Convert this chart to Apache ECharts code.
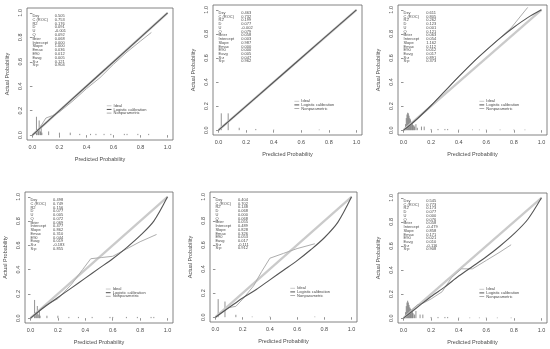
<!DOCTYPE html>
<html><head><meta charset="utf-8">
<script src="https://cdn.jsdelivr.net/npm/echarts@6/dist/echarts.min.js"></script>
<style>html,body{margin:0;padding:0;background:#fff}#c{width:550px;height:349px}</style>
</head><body><div id="c"></div>
<script>
// ---------- data ----------
const tickValues = [0, 0.2, 0.4, 0.6, 0.8, 1.0];
const xTitle = "Predicted Probability";
const yTitle = "Actual Probability";
const legendLabels = ["Ideal", "Logistic calibration", "Nonparametric"];
const statLabels = ["Dxy", "C (ROC)", "R2", "D", "U", "Q", "Brier", "Intercept", "Slope", "Emax", "E90", "Eavg", "S:z", "S:p"];

const stats1 = ["0.505", "0.753", "0.176", "0.091", "-0.001", "0.092", "0.068", "0.000", "1.000", "0.036", "0.012", "0.005", "0.121", "0.904"];
const stats2 = ["0.463", "0.732", "0.199", "0.077", "-0.002", "0.079", "0.058", "0.003", "0.987", "0.000", "0.000", "0.005", "0.047", "0.962"];
const stats3 = ["0.611", "0.805", "0.262", "0.123", "0.001", "0.121", "0.063", "0.054", "1.162", "0.112", "0.012", "0.017", "0.891", "0.373"];
const stats4 = ["0.498", "0.749", "0.156", "0.077", "0.005", "0.072", "0.069", "0.477", "0.862", "0.310", "0.044", "0.019", "-0.183", "0.855"];
const stats5 = ["0.404", "0.702", "0.148", "0.068", "0.000", "0.068", "0.055", "0.489", "0.828", "0.326", "0.053", "0.017", "-0.111", "0.912"];
const stats6 = ["0.545", "0.773", "0.173", "0.077", "0.000", "0.076", "0.058", "-0.479", "0.858", "0.171", "0.021", "0.010", "-0.116", "0.908"];

const ideal = [[0, 0], [1, 1]];

const logistic1 = [[0, 0], [0.5, 0.5], [1, 1]];
const logistic2 = [[0, 0], [0.5, 0.5], [1, 1]];
const logistic3 = [[0, 0], [0.05, 0.045], [0.1, 0.095], [0.2, 0.205], [0.3, 0.325], [0.4, 0.445], [0.5, 0.56], [0.6, 0.665], [0.7, 0.765], [0.8, 0.855], [0.9, 0.935], [1, 1]];
const logistic4 = [[0, 0], [0.1, 0.09], [0.2, 0.17], [0.3, 0.25], [0.4, 0.33], [0.5, 0.41], [0.6, 0.49], [0.7, 0.58], [0.8, 0.68], [0.9, 0.8], [1, 1]];
const logistic5 = [[0, 0], [0.1, 0.08], [0.2, 0.16], [0.3, 0.23], [0.4, 0.31], [0.5, 0.39], [0.6, 0.47], [0.7, 0.56], [0.8, 0.66], [0.9, 0.79], [1, 1]];
const logistic6 = [[0, 0], [0.1, 0.09], [0.2, 0.18], [0.3, 0.26], [0.4, 0.35], [0.5, 0.43], [0.6, 0.51], [0.7, 0.6], [0.8, 0.7], [0.9, 0.82], [1, 1]];

const nonpar1 = [[0.02, 0.01], [0.06, 0.07], [0.1, 0.14], [0.15, 0.16], [0.2, 0.19], [0.3, 0.28], [0.4, 0.38], [0.5, 0.47], [0.6, 0.58], [0.7, 0.68], [0.8, 0.77], [0.88, 0.84]];
const nonpar2 = [[0.02, 0.02], [0.07, 0.07], [0.15, 0.15], [0.27, 0.27], [0.4, 0.4], [0.73, 0.73]];
const nonpar3 = [[0.01, 0.01], [0.05, 0.045], [0.1, 0.095], [0.2, 0.205], [0.3, 0.325], [0.4, 0.445], [0.5, 0.56], [0.6, 0.665], [0.7, 0.765], [0.78, 0.85], [0.9, 1.02]];
const nonpar4 = [[0.02, 0.02], [0.05, 0.05], [0.1, 0.1], [0.15, 0.13], [0.2, 0.16], [0.3, 0.28], [0.38, 0.4], [0.44, 0.49], [0.52, 0.5], [0.6, 0.51], [0.7, 0.57], [0.8, 0.63], [0.92, 0.69]];
const nonpar5 = [[0.02, 0.02], [0.07, 0.06], [0.1, 0.08], [0.15, 0.09], [0.2, 0.15], [0.28, 0.26], [0.34, 0.38], [0.4, 0.49], [0.5, 0.53], [0.6, 0.57], [0.73, 0.61]];
const nonpar6 = [[0.01, 0.01], [0.05, 0.06], [0.1, 0.11], [0.15, 0.13], [0.2, 0.16], [0.28, 0.22], [0.35, 0.34], [0.42, 0.41], [0.5, 0.41], [0.6, 0.48], [0.7, 0.55], [0.78, 0.61]];

const spikes1 = [[0.03, 0.15], [0.035, 0.05], [0.045, 0.05], [0.05, 0.12], [0.06, 0.03], [0.065, 0.08], [0.07, 0.02], [0.12, 0.03], [0.2, 0.02], [0.28, 0.02], [0.35, 0.01], [0.43, 0.01], [0.47, 0.01], [0.53, 0.01], [0.58, 0.01], [0.68, 0.01], [0.7, 0.01], [0.78, 0.01], [0.86, 0.01]];
const spikes2 = [[0.02, 0.14], [0.07, 0.14], [0.15, 0.02], [0.27, 0.01], [0.4, 0.005], [0.73, 0.005]];
const spikes3 = [[0.01, 0.02], [0.015, 0.05], [0.02, 0.1], [0.025, 0.13], [0.03, 0.145], [0.035, 0.14], [0.04, 0.12], [0.045, 0.1], [0.05, 0.09], [0.055, 0.06], [0.06, 0.07], [0.065, 0.05], [0.07, 0.04], [0.075, 0.04], [0.08, 0.03], [0.09, 0.05], [0.1, 0.02], [0.13, 0.03], [0.15, 0.03], [0.2, 0.01], [0.25, 0.01], [0.3, 0.01], [0.32, 0.01], [0.4, 0.005], [0.5, 0.005], [0.55, 0.005], [0.6, 0.005], [0.7, 0.005], [0.8, 0.005], [0.88, 0.005]];
const spikes4 = [[0.03, 0.15], [0.035, 0.05], [0.045, 0.04], [0.05, 0.1], [0.06, 0.03], [0.065, 0.06], [0.07, 0.02], [0.12, 0.02], [0.2, 0.02], [0.28, 0.01], [0.35, 0.01], [0.45, 0.01], [0.58, 0.01], [0.6, 0.01], [0.7, 0.01], [0.78, 0.01], [0.88, 0.01], [0.9, 0.01]];
const spikes5 = [[0.02, 0.15], [0.07, 0.13], [0.15, 0.02], [0.27, 0.005], [0.4, 0.005], [0.73, 0.005]];
const spikes6 = [[0.01, 0.02], [0.015, 0.05], [0.02, 0.1], [0.025, 0.13], [0.03, 0.145], [0.035, 0.13], [0.04, 0.11], [0.045, 0.09], [0.05, 0.08], [0.055, 0.06], [0.06, 0.07], [0.065, 0.05], [0.07, 0.04], [0.08, 0.03], [0.09, 0.06], [0.12, 0.03], [0.14, 0.03], [0.2, 0.01], [0.25, 0.01], [0.3, 0.01], [0.32, 0.01], [0.4, 0.005], [0.48, 0.005], [0.55, 0.005], [0.6, 0.005], [0.68, 0.005], [0.78, 0.005]];

// ---------- layout ----------
const panels = [
  {grid: {left: 27, top: 8, width: 146, height: 132}, stats: stats1, logistic: logistic1, nonpar: nonpar1, spikes: spikes1},
  {grid: {left: 213, top: 5, width: 149, height: 130}, stats: stats2, logistic: logistic2, nonpar: nonpar2, spikes: spikes2},
  {grid: {left: 398, top: 5, width: 149, height: 130}, stats: stats3, logistic: logistic3, nonpar: nonpar3, spikes: spikes3},
  {grid: {left: 25, top: 192, width: 148, height: 131}, stats: stats4, logistic: logistic4, nonpar: nonpar4, spikes: spikes4},
  {grid: {left: 210, top: 192, width: 147, height: 130}, stats: stats5, logistic: logistic5, nonpar: nonpar5, spikes: spikes5},
  {grid: {left: 398, top: 193, width: 149, height: 130}, stats: stats6, logistic: logistic6, nonpar: nonpar6, spikes: spikes6}
];

const FONT = "'Liberation Sans', Arial, sans-serif";
const TXT = "#4a4a4a";
const C_IDEAL = "#cacaca", C_LOG = "#555555", C_NP = "#adadad";

const grids = [], xAxes = [], yAxes = [], series = [];
panels.forEach((p, i) => {
  grids.push(Object.assign({show: true, borderColor: "#666", borderWidth: 0.8, backgroundColor: "#fff"}, p.grid));
  const axBase = {
    type: "value", gridIndex: i, min: -0.04, max: 1.04,
    splitLine: {show: false}, axisLine: {show: false},
    axisTick: {show: true, customValues: tickValues, length: 2.5, lineStyle: {color: "#666", width: 0.7}},
    axisLabel: {customValues: tickValues, fontSize: 5.5, color: TXT, fontFamily: FONT, formatter: v => v.toFixed(1)},
    nameLocation: "middle", nameTextStyle: {fontSize: 5.5, color: TXT, fontFamily: FONT}
  };
  xAxes.push(Object.assign({}, axBase, {name: xTitle, nameGap: 16,
    axisLabel: Object.assign({}, axBase.axisLabel, {margin: 4})}));
  yAxes.push(Object.assign({}, axBase, {name: yTitle, nameGap: 17,
    axisLabel: Object.assign({}, axBase.axisLabel, {margin: 4, rotate: 90})}));
  const common = {xAxisIndex: i, yAxisIndex: i, silent: true, animation: false};
  series.push(Object.assign({type: "line", data: ideal, showSymbol: false, lineStyle: {color: C_IDEAL, width: 2.2}}, common));
  series.push(Object.assign({type: "line", data: p.nonpar, showSymbol: false, lineStyle: {color: C_NP, width: 1}}, common));
  series.push(Object.assign({type: "line", data: p.logistic, showSymbol: false, smooth: 0.3, lineStyle: {color: C_LOG, width: 1.1}}, common));
  series.push(Object.assign({type: "custom", data: p.spikes,
    renderItem: (params, api) => {
      const a = api.coord([api.value(0), 0]);
      const b = api.coord([api.value(0), api.value(1)]);
      return {type: "line", shape: {x1: a[0], y1: a[1], x2: b[0], y2: b[1]}, style: {stroke: "#777", lineWidth: 0.8}};
    }}, common));
  // stats block
  series.push(Object.assign({type: "custom", data: statLabels.map((l, k) => [0, 0, k]),
    renderItem: (params, api) => {
      const k = api.value(2);
      const yv = 0.975 - k * 0.031;
      const a = api.coord([0, yv]);
      const b = api.coord([0.165, yv]);
      return {type: "group", children: [
        {type: "text", x: a[0], y: a[1], style: {text: statLabels[k], fontSize: 4, fontFamily: FONT, fill: TXT, verticalAlign: "middle"}},
        {type: "text", x: b[0], y: b[1], style: {text: p.stats[k], fontSize: 4, fontFamily: FONT, fill: TXT, verticalAlign: "middle"}}
      ]};
    }}, common));
  // legend block
  const legCols = [C_IDEAL, C_LOG, C_NP];
  series.push(Object.assign({type: "custom", data: legendLabels.map((l, k) => [0, 0, k]),
    renderItem: (params, api) => {
      const k = api.value(2);
      const yv = 0.24 - k * 0.03;
      const a = api.coord([0.55, yv]);
      const b = api.coord([0.585, yv]);
      const t = api.coord([0.6, yv]);
      return {type: "group", children: [
        {type: "line", shape: {x1: a[0], y1: a[1], x2: b[0], y2: b[1]}, style: {stroke: legCols[k], lineWidth: 1}},
        {type: "text", x: t[0], y: t[1], style: {text: legendLabels[k], fontSize: 4, fontFamily: FONT, fill: TXT, verticalAlign: "middle"}}
      ]};
    }}, common));
});

const chart = echarts.init(document.getElementById("c"), null, {renderer: "canvas"});
chart.setOption({backgroundColor: "#fff", animation: false, grid: grids, xAxis: xAxes, yAxis: yAxes, series: series});
</script></body></html>
